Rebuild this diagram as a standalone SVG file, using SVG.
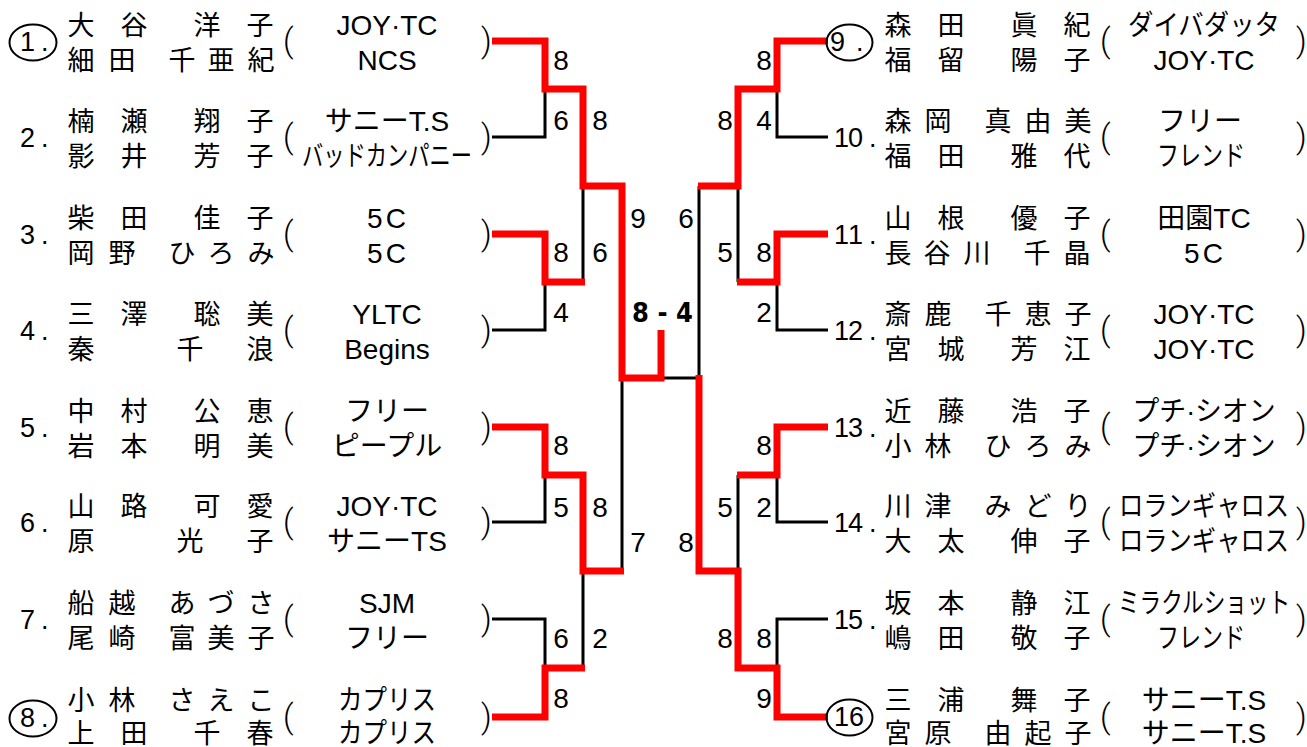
<svg xmlns="http://www.w3.org/2000/svg" width="1307" height="747" viewBox="0 0 1307 747">
<style>
.nm{font-family:'Noto Sans CJK JP',sans-serif;font-size:27px;text-anchor:middle;fill:#000}
.cl{font-family:'Liberation Sans','Noto Sans CJK JP',sans-serif;font-size:28px;text-anchor:middle;fill:#000}
.pr{font-family:Roboto,'Liberation Sans',sans-serif;font-weight:300;font-size:33px;fill:#000}
.lb{font-family:'Liberation Sans',sans-serif;font-size:27px;fill:#000}
.sc{font-family:'Liberation Sans',sans-serif;font-size:28px;text-anchor:middle;fill:#000}
.ring{fill:none;stroke:#000;stroke-width:2}
.bk{fill:none;stroke:#000;stroke-width:3;stroke-linejoin:miter}
.rd{fill:none;stroke:#ff0000;stroke-width:7;stroke-linejoin:miter;stroke-linecap:butt}
</style>
<rect width="1307" height="747" fill="#fff"/>
<g id="connectors">
<path class="bk" d="M492,137H545V89M492,330H545V282M583,186V282M492,522H545V475M492,619H545V668M583,571V668M622,378V571M661,378H699M699,186V378M828,137H777V89M738,186V282M828,330H777V282M828,522H777V475M738,475V571M828,619H777V668"/>
<path class="rd" d="M492,41H545V89H583V186H622V378H661V330"/>
<path class="rd" d="M492,234H545V282H585"/>
<path class="rd" d="M492,427H545V475H583V571H624"/>
<path class="rd" d="M492,717H545V668H585"/>
<path class="rd" d="M828,41H777V89H738V186H698"/>
<path class="rd" d="M828,234H777V282H737"/>
<path class="rd" d="M828,427H777V475H737"/>
<path class="rd" d="M828,717H777V668H738V571H699V375"/>
</g>
<g id="scores">
<text class="sc" x="561" y="70">8</text>
<text class="sc" x="561" y="130">6</text>
<text class="sc" x="600" y="130">8</text>
<text class="sc" x="561" y="262">8</text>
<text class="sc" x="600" y="262">6</text>
<text class="sc" x="561" y="322">4</text>
<text class="sc" x="638" y="228">9</text>
<text class="sc" x="686" y="228">6</text>
<text class="sc" x="561" y="455">8</text>
<text class="sc" x="561" y="517">5</text>
<text class="sc" x="600" y="517">8</text>
<text class="sc" x="638" y="552">7</text>
<text class="sc" x="686" y="552">8</text>
<text class="sc" x="561" y="648">6</text>
<text class="sc" x="600" y="648">2</text>
<text class="sc" x="561" y="708">8</text>
<text class="sc" x="764" y="70">8</text>
<text class="sc" x="725" y="130">8</text>
<text class="sc" x="764" y="130">4</text>
<text class="sc" x="725" y="262">5</text>
<text class="sc" x="764" y="262">8</text>
<text class="sc" x="764" y="322">2</text>
<text class="sc" x="764" y="455">8</text>
<text class="sc" x="725" y="517">5</text>
<text class="sc" x="764" y="517">2</text>
<text class="sc" x="725" y="648">8</text>
<text class="sc" x="764" y="648">8</text>
<text class="sc" x="764" y="708">9</text>
<text x="632" y="322" font-family="'DejaVu Sans Condensed','DejaVu Sans',sans-serif" font-weight="bold" font-size="27" textLength="61" lengthAdjust="spacing">8 - 4</text>
</g>
<g id="p1">
<ellipse class="ring" cx="33" cy="42.5" rx="23.5" ry="18"/>
<text class="lb" x="20 41" y="51">1.</text>
<text class="nm" x="81 134 207 260" y="35">大谷洋子</text>
<text class="nm" x="81 122 182 221 261" y="70">細田千亜紀</text>
<text class="pr" x="283" y="52">(</text>
<text class="cl" x="387" y="35">JOY·TC</text>
<text class="cl" x="387" y="70">NCS</text>
<text class="pr" x="481" y="52">)</text>
</g>
<g id="p2">
<text class="lb" x="20 41" y="147">2.</text>
<text class="nm" x="81 134 207 260" y="131">楠瀬翔子</text>
<text class="nm" x="81 134 207 260" y="166">影井芳子</text>
<text class="pr" x="283" y="148">(</text>
<text class="cl" x="387" y="131">サニーT.S</text>
<text class="cl" x="387" y="166" font-size="23" textLength="170" lengthAdjust="spacingAndGlyphs">バッドカンパニー</text>
<text class="pr" x="481" y="148">)</text>
</g>
<g id="p3">
<text class="lb" x="20 41" y="244">3.</text>
<text class="nm" x="81 134 207 260" y="228">柴田佳子</text>
<text class="nm" x="81 122 182 221 261" y="263">岡野ひろみ</text>
<text class="pr" x="283" y="245">(</text>
<text class="cl" x="388" y="228" letter-spacing="3">5C</text>
<text class="cl" x="388" y="263" letter-spacing="3">5C</text>
<text class="pr" x="481" y="245">)</text>
</g>
<g id="p4">
<text class="lb" x="20 41" y="340">4.</text>
<text class="nm" x="81 134 207 260" y="324">三澤聡美</text>
<text class="nm" x="81 190 260" y="359">秦千浪</text>
<text class="pr" x="283" y="341">(</text>
<text class="cl" x="387" y="324">YLTC</text>
<text class="cl" x="387" y="359">Begins</text>
<text class="pr" x="481" y="341">)</text>
</g>
<g id="p5">
<text class="lb" x="20 41" y="437">5.</text>
<text class="nm" x="81 134 207 260" y="421">中村公恵</text>
<text class="nm" x="81 134 207 260" y="456">岩本明美</text>
<text class="pr" x="283" y="438">(</text>
<text class="cl" x="387" y="421">フリー</text>
<text class="cl" x="387" y="456">ピープル</text>
<text class="pr" x="481" y="438">)</text>
</g>
<g id="p6">
<text class="lb" x="20 41" y="532">6.</text>
<text class="nm" x="81 134 207 260" y="516">山路可愛</text>
<text class="nm" x="81 190 260" y="551">原光子</text>
<text class="pr" x="283" y="533">(</text>
<text class="cl" x="387" y="516">JOY·TC</text>
<text class="cl" x="387" y="551">サニーTS</text>
<text class="pr" x="481" y="533">)</text>
</g>
<g id="p7">
<text class="lb" x="20 41" y="629">7.</text>
<text class="nm" x="81 122 182 221 261" y="613">船越あづさ</text>
<text class="nm" x="81 122 182 221 261" y="648">尾崎富美子</text>
<text class="pr" x="283" y="630">(</text>
<text class="cl" x="387" y="613">SJM</text>
<text class="cl" x="387" y="648">フリー</text>
<text class="pr" x="481" y="630">)</text>
</g>
<g id="p8">
<ellipse class="ring" cx="33" cy="718.5" rx="23.5" ry="18"/>
<text class="lb" x="20 41" y="727">8.</text>
<text class="nm" x="81 122 182 221 261" y="710">小林さえこ</text>
<text class="nm" x="81 134 207 260" y="743">上田千春</text>
<text class="pr" x="283" y="728">(</text>
<text class="cl" x="387" y="710" textLength="98" lengthAdjust="spacingAndGlyphs">カプリス</text>
<text class="cl" x="387" y="743" textLength="98" lengthAdjust="spacingAndGlyphs">カプリス</text>
<text class="pr" x="481" y="728">)</text>
</g>
<g id="p9">
<ellipse class="ring" cx="849.5" cy="42.5" rx="23" ry="18"/>
<text class="lb" x="830 856" y="51">9.</text>
<text class="nm" x="898 951 1024 1077" y="35">森田眞紀</text>
<text class="nm" x="898 951 1024 1077" y="70">福留陽子</text>
<text class="pr" x="1100" y="52">(</text>
<text class="cl" x="1204" y="35" textLength="152" lengthAdjust="spacingAndGlyphs">ダイバダッタ</text>
<text class="cl" x="1204" y="70">JOY·TC</text>
<text class="pr" x="1296" y="52">)</text>
</g>
<g id="p10">
<text class="lb" x="834 848 869" y="147">10.</text>
<text class="nm" x="898 938 998 1038 1078" y="131">森岡真由美</text>
<text class="nm" x="898 951 1024 1077" y="166">福田雅代</text>
<text class="pr" x="1100" y="148">(</text>
<text class="cl" x="1200" y="131">フリー</text>
<text class="cl" x="1201" y="166" textLength="88" lengthAdjust="spacingAndGlyphs">フレンド</text>
<text class="pr" x="1296" y="148">)</text>
</g>
<g id="p11">
<text class="lb" x="834 848 869" y="244">11.</text>
<text class="nm" x="898 951 1024 1077" y="228">山根優子</text>
<text class="nm" x="898 937 977 1037 1077" y="263">長谷川千晶</text>
<text class="pr" x="1100" y="245">(</text>
<text class="cl" x="1204" y="228">田園TC</text>
<text class="cl" x="1205" y="263" letter-spacing="3">5C</text>
<text class="pr" x="1296" y="245">)</text>
</g>
<g id="p12">
<text class="lb" x="834 848 869" y="340">12.</text>
<text class="nm" x="898 938 998 1038 1078" y="324">斎鹿千恵子</text>
<text class="nm" x="898 951 1024 1077" y="359">宮城芳江</text>
<text class="pr" x="1100" y="341">(</text>
<text class="cl" x="1204" y="324">JOY·TC</text>
<text class="cl" x="1204" y="359">JOY·TC</text>
<text class="pr" x="1296" y="341">)</text>
</g>
<g id="p13">
<text class="lb" x="834 848 869" y="437">13.</text>
<text class="nm" x="898 951 1024 1077" y="421">近藤浩子</text>
<text class="nm" x="898 938 998 1038 1078" y="456">小林ひろみ</text>
<text class="pr" x="1100" y="438">(</text>
<text class="cl" x="1204" y="421" textLength="143" lengthAdjust="spacingAndGlyphs">プチ·シオン</text>
<text class="cl" x="1204" y="456" textLength="143" lengthAdjust="spacingAndGlyphs">プチ·シオン</text>
<text class="pr" x="1296" y="438">)</text>
</g>
<g id="p14">
<text class="lb" x="834 848 869" y="532">14.</text>
<text class="nm" x="898 938 998 1038 1078" y="516">川津みどり</text>
<text class="nm" x="898 951 1024 1077" y="551">大太伸子</text>
<text class="pr" x="1100" y="533">(</text>
<text class="cl" x="1204" y="516" font-size="25" textLength="170" lengthAdjust="spacingAndGlyphs">ロランギャロス</text>
<text class="cl" x="1204" y="551" font-size="25" textLength="170" lengthAdjust="spacingAndGlyphs">ロランギャロス</text>
<text class="pr" x="1296" y="533">)</text>
</g>
<g id="p15">
<text class="lb" x="834 848 869" y="629">15.</text>
<text class="nm" x="898 951 1024 1077" y="613">坂本静江</text>
<text class="nm" x="898 951 1024 1077" y="648">嶋田敬子</text>
<text class="pr" x="1100" y="630">(</text>
<text class="cl" x="1204" y="613" font-size="24" textLength="172" lengthAdjust="spacingAndGlyphs">ミラクルショット</text>
<text class="cl" x="1201" y="648" textLength="88" lengthAdjust="spacingAndGlyphs">フレンド</text>
<text class="pr" x="1296" y="630">)</text>
</g>
<g id="p16">
<ellipse class="ring" cx="849.5" cy="717.5" rx="23" ry="18"/>
<text class="lb" x="834" y="726">16</text>
<text class="nm" x="898 951 1024 1077" y="710">三浦舞子</text>
<text class="nm" x="898 938 998 1038 1078" y="743">宮原由起子</text>
<text class="pr" x="1100" y="728">(</text>
<text class="cl" x="1204" y="710">サニーT.S</text>
<text class="cl" x="1204" y="743">サニーT.S</text>
<text class="pr" x="1296" y="728">)</text>
</g>
</svg>
